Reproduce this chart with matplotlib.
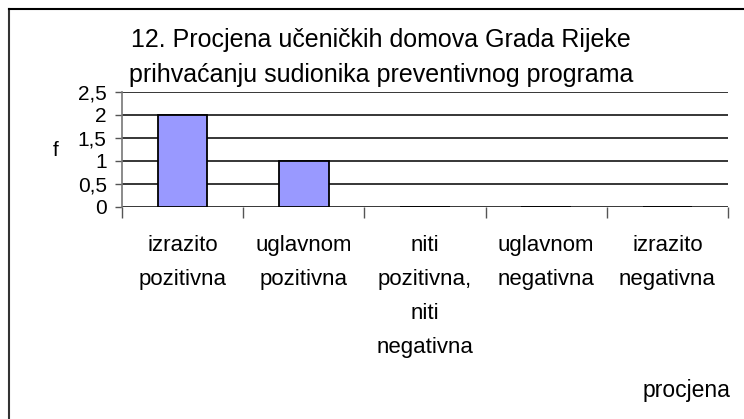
import numpy as np
import matplotlib
matplotlib.use("Agg")
import matplotlib.pyplot as plt
from matplotlib.lines import Line2D

plt.rcParams['font.family'] = ['Liberation Sans', 'DejaVu Sans']

# data
categories = ['izrazito\npozitivna', 'uglavnom\npozitivna', 'niti\npozitivna,\nniti\nnegativna',
              'uglavnom\nnegativna', 'izrazito\nnegativna']
values = [2, 1, 0, 0, 0]
yticks = [0, 0.5, 1, 1.5, 2, 2.5]
ytick_labels = ['0', '0,5', '1', '1,5', '2', '2,5']

fig = plt.figure(figsize=(7.44, 4.19), dpi=100)
ax = fig.add_axes([122/744, 1-207/419, (728-122)/744, (207-92)/419])

x = np.arange(len(categories))
ax.bar(x, values, width=0.41, color='#9999FF', edgecolor='black', linewidth=1.3, zorder=3)

ax.set_xlim(-0.5, len(categories)-0.5)
ax.set_ylim(0, 2.5)
ax.set_yticks(yticks)
ax.set_yticklabels(ytick_labels, fontsize=15)
ax.yaxis.grid(True, color='black', linewidth=1.1)
ax.set_axisbelow(True)

# category boundaries as tick marks, labels centred between them
ax.set_xticks(np.arange(len(categories)+1)-0.5)
ax.set_xticklabels([])
ax.set_xticks(x, minor=True)
ax.set_xticklabels(categories, minor=True, fontsize=16, linespacing=1.82, va='top')
ax.tick_params(axis='x', which='major', length=8, color='#555555', width=1)
ax.tick_params(axis='x', which='minor', length=0, pad=20)
ax.tick_params(axis='y', length=5, color='#555555', width=1, pad=6)

for s in ['top', 'right', 'bottom']:
    ax.spines[s].set_visible(False)
ax.spines['left'].set_color('#777777')
ax.spines['left'].set_linewidth(1.2)

fig.text(381/744, 1-40/419, '12. Procjena učeničkih domova Grada Rijeke', ha='center', va='center', fontsize=18)
fig.text(381/744, 1-75/419, 'prihvaćanju sudionika preventivnog programa', ha='center', va='center', fontsize=18)
fig.text(56/744, 1-150/419, 'f', ha='center', va='center', fontsize=15)
fig.text(686/744, 1-391/419, 'procjena', ha='center', va='center', fontsize=16.5)

# outer frame (left and top edges visible)
fig.add_artist(Line2D([8.5/744, 8.5/744], [0, 1-9/419], color='#333333', linewidth=1.5, transform=fig.transFigure))
fig.add_artist(Line2D([8.5/744, 1], [1-9.5/419, 1-9.5/419], color='black', linewidth=1.5, transform=fig.transFigure))

fig.savefig('out.png', dpi=100)
